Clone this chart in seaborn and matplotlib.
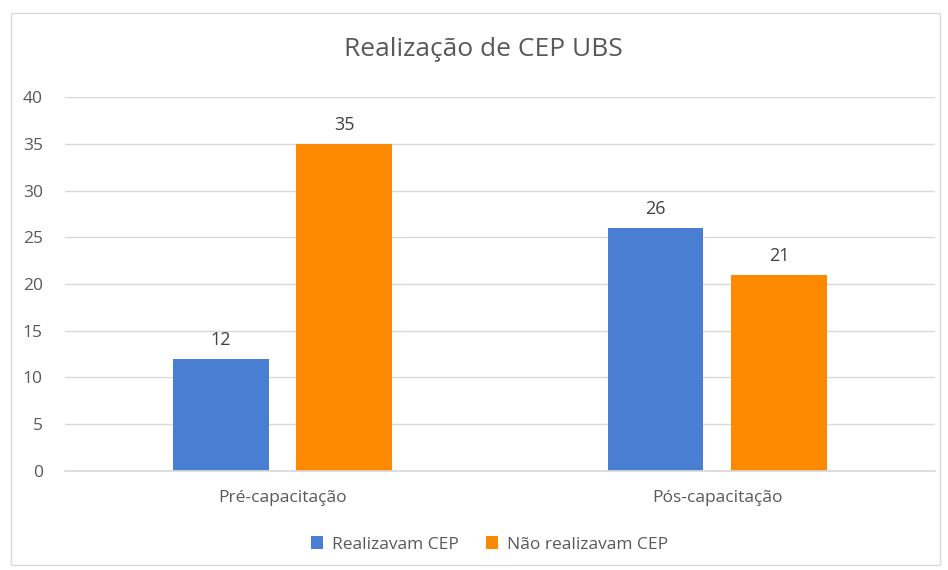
import pandas as pd
import seaborn as sns
import matplotlib.pyplot as plt
from matplotlib.patches import Rectangle

# data
fases = ['Pré-capacitação', 'Pós-capacitação']
series = ['Realizavam CEP', 'Não realizavam CEP']
realizavam = [12, 26]
nao_realizavam = [35, 21]
cores = ['#4a7ed3', '#fd8900']

df = pd.DataFrame({
    'fase': fases * 2,
    'serie': [series[0]] * 2 + [series[1]] * 2,
    'valor': realizavam + nao_realizavam,
})

sns.set_theme(style='white')
plt.rcParams['font.family'] = ['Open Sans', 'DejaVu Sans']

fig = plt.figure(figsize=(9.48, 5.70), dpi=100)
ax = fig.add_axes([0.0686, 0.1737, 0.9174, 0.6561])

sns.barplot(data=df, x='fase', y='valor', hue='serie', palette=cores,
            saturation=1, width=0.568, gap=0.225, linewidth=0,
            ax=ax, legend=True)

ax.set_ylim(0, 40)
ax.set_xlim(-0.5, 1.5)
ax.set_yticks(range(0, 41, 5))
ax.yaxis.grid(True, color='#d9d9d9', linewidth=1)
ax.set_axisbelow(True)
for s in ['top', 'right', 'left']:
    ax.spines[s].set_visible(False)
ax.spines['bottom'].set_color('#d9d9d9')
ax.tick_params(axis='both', colors='#595959', labelsize=12.5, length=0)
ax.tick_params(axis='y', pad=16)
ax.tick_params(axis='x', pad=14)
ax.set_xlabel('')
ax.set_ylabel('')

# value labels
for c in ax.containers:
    ax.bar_label(c, padding=7, color='#404040', fontsize=13)

ax.legend(loc='upper center', bbox_to_anchor=(0.488, -0.133), ncol=2,
          frameon=False, fontsize=12.5, labelcolor='#595959',
          handlelength=0.7, handleheight=0.7, handletextpad=0.5,
          columnspacing=1.6)

fig.text(0.51, 0.913, 'Realização de CEP UBS', ha='center', va='center',
         fontsize=19, color='#595959')

# light border around the chart area
fig.patches.append(Rectangle((0.012, 0.008), 0.98, 0.97, transform=fig.transFigure,
                             fill=False, edgecolor='#d9d9d9', linewidth=1))

fig.savefig('out.png', dpi=100)
